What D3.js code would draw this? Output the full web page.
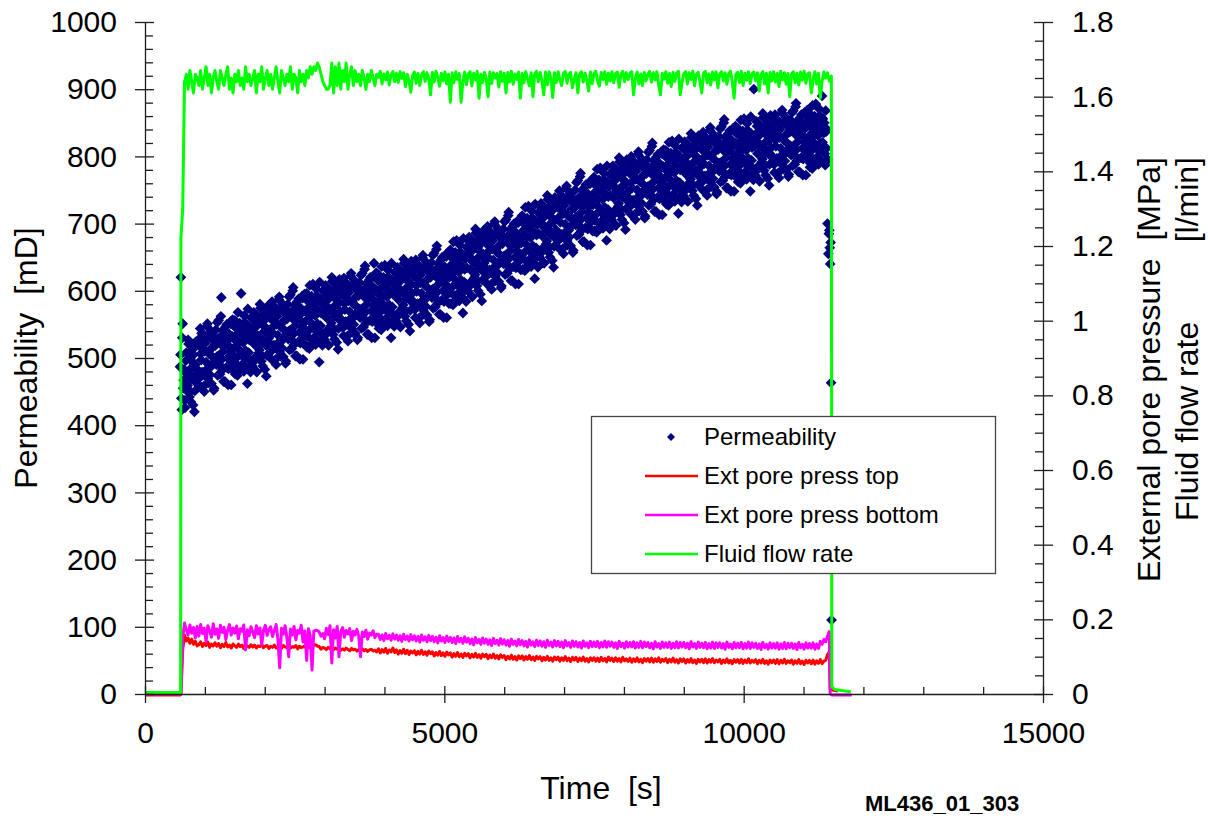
<!DOCTYPE html>
<html>
<head>
<meta charset="utf-8">
<script src="https://cdn.jsdelivr.net/npm/d3@7"></script>
<style>
  html, body { margin: 0; padding: 0; background: #fff; }
  svg { display: block; font-family: "Liberation Sans", Arial, sans-serif; }
  text { white-space: pre; }
</style>
</head>
<body>
<svg id="chart" width="1208" height="820"></svg>
<script>
// ---------------------------------------------------------------------------
// Test ML436_01_303 : permeability, external pore pressures and flow rate
// ---------------------------------------------------------------------------

// Axis ticks
const timeTicks = [0, 5000, 10000, 15000];
const permTicks = [0, 100, 200, 300, 400, 500, 600, 700, 800, 900, 1000];
const rightTicks = [0, 0.2, 0.4, 0.6, 0.8, 1.0, 1.2, 1.4, 1.6, 1.8];

// Legend entries
const legendLabels = ["Permeability", "Ext pore press top", "Ext pore press bottom", "Fluid flow rate"];

// Logged line channels: first sample at 600 s, one sample every 30 s
const lineT0 = 600, lineDt = 30;

// Fluid flow rate [l/min]
const flowRate = [
  1.22, 1.30, 1.64, 1.66, 1.62, 1.67, 1.64, 1.61, 1.66, 1.65,
  1.63, 1.67, 1.62, 1.65, 1.68, 1.63, 1.66, 1.61, 1.65, 1.67,
  1.64, 1.62, 1.67, 1.65, 1.63, 1.66, 1.68, 1.62, 1.65, 1.61,
  1.66, 1.64, 1.67, 1.63, 1.65, 1.62, 1.68, 1.64, 1.66, 1.63,
  1.65, 1.67, 1.61, 1.66, 1.64, 1.68, 1.62, 1.65, 1.67, 1.63,
  1.66, 1.62, 1.65, 1.68, 1.64, 1.61, 1.67, 1.65, 1.63, 1.66,
  1.64, 1.68, 1.62, 1.66, 1.65, 1.61, 1.67, 1.64, 1.66, 1.63,
  1.67, 1.65, 1.68, 1.66, 1.68, 1.67, 1.69, 1.68, 1.66, 1.64,
  1.63, 1.62, 1.62, 1.63, 1.69, 1.61, 1.68, 1.63, 1.69, 1.62,
  1.67, 1.64, 1.69, 1.62, 1.66, 1.68, 1.63, 1.67, 1.64, 1.66,
  1.63, 1.67, 1.65, 1.62, 1.66, 1.64, 1.67, 1.65, 1.63, 1.66,
  1.652, 1.668, 1.634, 1.661, 1.645, 1.666, 1.631, 1.659, 1.667, 1.640,
  1.663, 1.638, 1.667, 1.649, 1.664, 1.627, 1.660, 1.642, 1.612, 1.657,
  1.666, 1.636, 1.662, 1.630, 1.658, 1.667, 1.641, 1.664, 1.648, 1.605,
  1.665, 1.639, 1.668, 1.651, 1.628, 1.663, 1.643, 1.666, 1.634, 1.660,
  1.585, 1.664, 1.637, 1.667, 1.646, 1.662, 1.585, 1.640, 1.666, 1.632,
  1.661, 1.667, 1.629, 1.663, 1.644, 1.668, 1.596, 1.660, 1.638, 1.665,
  1.648, 1.600, 1.666, 1.635, 1.664, 1.650, 1.662, 1.626, 1.667, 1.641,
  1.663, 1.610, 1.665, 1.639, 1.668, 1.633, 1.661, 1.646, 1.666, 1.596,
  1.662, 1.637, 1.667, 1.648, 1.629, 1.664, 1.600, 1.661, 1.668, 1.640,
  1.665, 1.643, 1.605, 1.666, 1.632, 1.667, 1.649, 1.598, 1.664, 1.638,
  1.667, 1.645, 1.630, 1.663, 1.668, 1.636, 1.660, 1.665, 1.624, 1.647,
  1.664, 1.610, 1.661, 1.667, 1.639, 1.663, 1.644, 1.615, 1.666, 1.635,
  1.662, 1.668, 1.641, 1.628, 1.665, 1.646, 1.667, 1.633, 1.663, 1.642,
  1.667, 1.637, 1.662, 1.666, 1.625, 1.660, 1.668, 1.640, 1.664, 1.646,
  1.663, 1.667, 1.605, 1.648, 1.666, 1.634, 1.661, 1.630, 1.665, 1.643,
  1.660, 1.668, 1.639, 1.664, 1.645, 1.667, 1.632, 1.605, 1.663, 1.647,
  1.667, 1.636, 1.662, 1.627, 1.665, 1.641, 1.663, 1.668, 1.605, 1.638,
  1.662, 1.667, 1.634, 1.664, 1.646, 1.668, 1.629, 1.660, 1.665, 1.640,
  1.610, 1.663, 1.668, 1.637, 1.661, 1.631, 1.666, 1.645, 1.667, 1.624,
  1.661, 1.667, 1.642, 1.664, 1.633, 1.662, 1.668, 1.639, 1.596, 1.660,
  1.665, 1.638, 1.668, 1.630, 1.663, 1.644, 1.667, 1.635, 1.661, 1.666,
  1.643, 1.664, 1.615, 1.659, 1.667, 1.634, 1.663, 1.610, 1.665, 1.642,
  1.667, 1.639, 1.662, 1.627, 1.668, 1.645, 1.664, 1.633, 1.662, 1.600,
  1.660, 1.667, 1.637, 1.663, 1.631, 1.666, 1.644, 1.668, 1.636, 1.661,
  1.664, 1.610, 1.645, 1.667, 1.634, 1.663, 1.596, 1.641, 1.666, 1.650,
  1.664, 1.642
];
const flowBefore = [[0, 0.004], [595, 0.004]];
const flowAfter = [[11465, 1.655], [11472, 0.02], [11520, 0.012], [11700, 0.008], [11790, 0.006]];

// External pore pressure, top [MPa]
const poreTop = [
  0.000, 0.120, 0.158, 0.142, 0.150, 0.136, 0.147, 0.133, 0.141, 0.129,
  0.132, 0.140, 0.127, 0.136, 0.130, 0.139, 0.125, 0.134, 0.129, 0.137,
  0.128, 0.135, 0.124, 0.133, 0.127, 0.138, 0.126, 0.131, 0.123, 0.134,
  0.129, 0.125, 0.134, 0.127, 0.131, 0.122, 0.133, 0.128, 0.125, 0.132,
  0.126, 0.131, 0.123, 0.129, 0.127, 0.133, 0.124, 0.128, 0.130, 0.122,
  0.128, 0.125, 0.131, 0.123, 0.127, 0.129, 0.122, 0.130, 0.126, 0.124,
  0.129, 0.123, 0.127, 0.125, 0.130, 0.121, 0.128, 0.124, 0.126, 0.129,
  0.122, 0.127, 0.124, 0.128, 0.130, 0.132, 0.128, 0.127, 0.120, 0.125,
  0.123, 0.119, 0.125, 0.121, 0.124, 0.118, 0.123, 0.120, 0.122, 0.117,
  0.121, 0.118, 0.123, 0.119, 0.116, 0.122, 0.118, 0.120, 0.115, 0.119,
  0.117, 0.121, 0.116, 0.119, 0.114, 0.118, 0.120, 0.115, 0.117, 0.113,
  0.121, 0.110, 0.119, 0.112, 0.122, 0.109, 0.118, 0.113, 0.123, 0.111,
  0.118, 0.107, 0.116, 0.109, 0.120, 0.108, 0.117, 0.106, 0.115, 0.110,
  0.116, 0.105, 0.114, 0.107, 0.117, 0.106, 0.113, 0.104, 0.115, 0.108,
  0.113, 0.102, 0.111, 0.104, 0.114, 0.103, 0.110, 0.101, 0.112, 0.105,
  0.110, 0.099, 0.108, 0.101, 0.111, 0.100, 0.107, 0.098, 0.109, 0.102,
  0.108, 0.097, 0.106, 0.099, 0.109, 0.098, 0.105, 0.096, 0.107, 0.100,
  0.106, 0.095, 0.104, 0.097, 0.107, 0.096, 0.103, 0.094, 0.105, 0.098,
  0.103, 0.092, 0.101, 0.094, 0.104, 0.093, 0.100, 0.091, 0.102, 0.095,
  0.102, 0.091, 0.100, 0.093, 0.103, 0.092, 0.099, 0.090, 0.101, 0.094,
  0.100, 0.089, 0.098, 0.091, 0.101, 0.090, 0.097, 0.088, 0.099, 0.092,
  0.099, 0.088, 0.097, 0.090, 0.100, 0.089, 0.096, 0.087, 0.098, 0.091,
  0.098, 0.087, 0.096, 0.089, 0.099, 0.088, 0.095, 0.086, 0.097, 0.090,
  0.097, 0.088, 0.096, 0.087, 0.098, 0.089, 0.095, 0.086, 0.099, 0.090,
  0.096, 0.087, 0.097, 0.088, 0.095, 0.086, 0.098, 0.089, 0.094, 0.087,
  0.096, 0.085, 0.094, 0.087, 0.097, 0.086, 0.093, 0.084, 0.095, 0.088,
  0.095, 0.086, 0.096, 0.085, 0.094, 0.087, 0.097, 0.085, 0.093, 0.088,
  0.095, 0.084, 0.093, 0.086, 0.096, 0.085, 0.092, 0.083, 0.094, 0.087,
  0.094, 0.083, 0.092, 0.085, 0.095, 0.084, 0.091, 0.082, 0.093, 0.086,
  0.093, 0.084, 0.094, 0.083, 0.092, 0.085, 0.095, 0.084, 0.091, 0.086,
  0.093, 0.082, 0.091, 0.084, 0.094, 0.083, 0.090, 0.081, 0.092, 0.085,
  0.092, 0.083, 0.093, 0.082, 0.091, 0.084, 0.094, 0.083, 0.090, 0.085,
  0.092, 0.081, 0.090, 0.083, 0.093, 0.082, 0.089, 0.080, 0.091, 0.084,
  0.091, 0.082, 0.092, 0.081, 0.090, 0.083, 0.093, 0.082, 0.089, 0.084,
  0.091, 0.080, 0.089, 0.082, 0.092, 0.081, 0.088, 0.079, 0.090, 0.083,
  0.090, 0.081, 0.091, 0.080, 0.089, 0.082, 0.092, 0.081, 0.088, 0.090,
  0.105, 0.113
];
const topBefore = [[0, -0.003], [590, -0.003]];
const topAfter = [[11445, 0.012], [11500, 0.010], [11575, 0.008]];

// External pore pressure, bottom [MPa]
const poreBottom = [
  0.000, 0.150, 0.190, 0.172, 0.158, 0.185, 0.163, 0.178, 0.150, 0.181,
  0.155, 0.186, 0.162, 0.176, 0.141, 0.183, 0.170, 0.152, 0.188, 0.160,
  0.174, 0.149, 0.184, 0.165, 0.179, 0.146, 0.171, 0.186, 0.158, 0.177,
  0.163, 0.182, 0.148, 0.175, 0.168, 0.185, 0.118, 0.172, 0.156, 0.180,
  0.166, 0.151, 0.183, 0.161, 0.177, 0.132, 0.170, 0.184, 0.157, 0.173,
  0.180, 0.154, 0.169, 0.186, 0.147, 0.070, 0.176, 0.160, 0.183, 0.152,
  0.100, 0.174, 0.158, 0.181, 0.145, 0.171, 0.163, 0.184, 0.139, 0.169,
  0.090, 0.175, 0.157, 0.064, 0.168, 0.171, 0.170, 0.166, 0.155, 0.162,
  0.148, 0.176, 0.159, 0.183, 0.083, 0.172, 0.150, 0.181, 0.100, 0.167,
  0.178, 0.152, 0.170, 0.161, 0.175, 0.143, 0.168, 0.158, 0.173, 0.155,
  0.100, 0.166, 0.154, 0.171, 0.147, 0.163, 0.158, 0.169, 0.151, 0.160,
  0.160, 0.146, 0.158, 0.143, 0.162, 0.148, 0.157, 0.144, 0.161, 0.147,
  0.158, 0.144, 0.156, 0.141, 0.160, 0.146, 0.155, 0.142, 0.159, 0.145,
  0.156, 0.142, 0.154, 0.139, 0.158, 0.144, 0.153, 0.140, 0.157, 0.143,
  0.154, 0.140, 0.152, 0.137, 0.156, 0.142, 0.151, 0.138, 0.155, 0.141,
  0.152, 0.138, 0.150, 0.135, 0.154, 0.140, 0.149, 0.136, 0.153, 0.139,
  0.149, 0.135, 0.147, 0.132, 0.151, 0.137, 0.146, 0.133, 0.150, 0.136,
  0.147, 0.133, 0.145, 0.130, 0.149, 0.135, 0.144, 0.131, 0.148, 0.134,
  0.145, 0.131, 0.143, 0.128, 0.147, 0.133, 0.142, 0.129, 0.146, 0.132,
  0.143, 0.129, 0.141, 0.126, 0.145, 0.131, 0.140, 0.127, 0.144, 0.130,
  0.142, 0.128, 0.140, 0.125, 0.144, 0.130, 0.139, 0.126, 0.143, 0.129,
  0.141, 0.127, 0.139, 0.124, 0.143, 0.129, 0.138, 0.125, 0.142, 0.128,
  0.140, 0.126, 0.138, 0.123, 0.142, 0.128, 0.137, 0.124, 0.141, 0.127,
  0.139, 0.127, 0.141, 0.124, 0.138, 0.126, 0.142, 0.125, 0.140, 0.128,
  0.139, 0.125, 0.137, 0.122, 0.141, 0.127, 0.136, 0.123, 0.140, 0.126,
  0.138, 0.126, 0.140, 0.123, 0.137, 0.125, 0.141, 0.124, 0.139, 0.127,
  0.138, 0.124, 0.136, 0.121, 0.140, 0.126, 0.135, 0.122, 0.139, 0.125,
  0.137, 0.125, 0.139, 0.122, 0.136, 0.124, 0.140, 0.123, 0.138, 0.126,
  0.138, 0.124, 0.136, 0.121, 0.140, 0.126, 0.135, 0.122, 0.139, 0.125,
  0.136, 0.124, 0.138, 0.121, 0.135, 0.123, 0.139, 0.122, 0.137, 0.125,
  0.137, 0.123, 0.135, 0.120, 0.139, 0.125, 0.134, 0.121, 0.138, 0.124,
  0.136, 0.124, 0.138, 0.121, 0.135, 0.123, 0.139, 0.122, 0.137, 0.125,
  0.136, 0.122, 0.134, 0.119, 0.138, 0.124, 0.133, 0.120, 0.137, 0.123,
  0.135, 0.123, 0.137, 0.120, 0.134, 0.122, 0.138, 0.121, 0.136, 0.124,
  0.136, 0.122, 0.134, 0.119, 0.138, 0.124, 0.133, 0.120, 0.137, 0.123,
  0.135, 0.123, 0.137, 0.120, 0.134, 0.122, 0.141, 0.133, 0.146, 0.140,
  0.155, 0.167
];
const bottomBefore = [[0, 0.0], [590, 0.0]];
const bottomAfter = [[11445, 0.0], [11480, -0.003], [11805, -0.003]];

// Computed permeability [mD]: first value at 585 s, one value every 7.5 s
const permT0 = 585, permDt = 7.5;
const permeability = [
  487, 505, 620, 440, 423, 530, 551, 455, 467, 483, 437, 426, 478, 496, 508, 477, 455, 459, 527, 521, 448, 442, 483, 500, 435, 469, 495, 512, 472, 430, 505, 487, 420, 451, 490, 524, 463, 476, 520, 462,
  482, 519, 528, 470, 458, 544, 506, 497, 537, 479, 475, 536, 514, 458, 450, 510, 522, 528, 494, 483, 547, 551, 469, 463, 510, 506, 485, 475, 535, 540, 462, 491, 502, 517, 526, 452, 455, 531, 518, 498,
  542, 490, 502, 553, 474, 503, 556, 530, 490, 476, 521, 562, 590, 498, 482, 541, 510, 465, 536, 519, 465, 546, 528, 486, 550, 525, 500, 460, 484, 536, 517, 509, 554, 551, 460, 494, 532, 557, 505, 481,
  515, 547, 556, 476, 492, 525, 535, 501, 474, 568, 546, 513, 524, 552, 487, 482, 596, 536, 504, 491, 541, 523, 480, 563, 553, 499, 511, 531, 531, 485, 462, 573, 548, 508, 527, 542, 496, 479, 560, 529,
  540, 488, 493, 543, 568, 561, 520, 501, 553, 536, 480, 479, 531, 549, 561, 530, 508, 512, 580, 574, 501, 495, 536, 553, 488, 522, 548, 565, 525, 483, 558, 540, 473, 504, 543, 577, 516, 529, 573, 515,
  522, 559, 568, 510, 498, 584, 546, 537, 577, 519, 515, 576, 554, 498, 490, 550, 562, 568, 534, 523, 587, 591, 509, 503, 550, 546, 525, 515, 575, 580, 502, 531, 542, 557, 566, 492, 495, 571, 558, 538,
  580, 528, 540, 591, 512, 541, 594, 568, 528, 514, 559, 600, 605, 536, 520, 579, 548, 503, 574, 557, 503, 584, 566, 524, 588, 563, 538, 498, 522, 574, 555, 547, 592, 589, 498, 532, 570, 595, 543, 519,
  555, 587, 596, 516, 532, 565, 575, 541, 514, 608, 586, 553, 564, 592, 527, 522, 610, 576, 544, 531, 581, 563, 520, 603, 593, 539, 551, 571, 571, 525, 494, 613, 588, 548, 567, 582, 536, 519, 600, 569,
  580, 528, 533, 583, 608, 601, 560, 541, 593, 576, 520, 519, 571, 589, 601, 570, 548, 552, 620, 614, 541, 535, 576, 593, 528, 562, 588, 605, 565, 523, 598, 580, 513, 544, 583, 617, 556, 569, 613, 555,
  557, 594, 603, 545, 533, 619, 581, 572, 612, 554, 550, 611, 589, 533, 525, 585, 597, 603, 569, 558, 622, 626, 544, 538, 585, 581, 560, 550, 610, 615, 537, 566, 577, 592, 601, 527, 530, 606, 593, 573,
  612, 560, 572, 623, 544, 573, 626, 600, 560, 546, 591, 632, 637, 568, 552, 611, 580, 535, 606, 589, 535, 616, 598, 556, 620, 595, 570, 530, 554, 606, 587, 579, 641, 621, 530, 564, 602, 627, 575, 551,
  583, 615, 624, 544, 560, 593, 603, 569, 542, 636, 614, 581, 592, 620, 555, 550, 638, 604, 572, 559, 609, 591, 548, 631, 621, 567, 579, 599, 599, 553, 530, 641, 616, 576, 595, 610, 564, 547, 628, 597,
  607, 555, 560, 610, 635, 628, 587, 568, 620, 603, 547, 546, 598, 616, 628, 597, 575, 579, 647, 641, 568, 562, 603, 620, 555, 589, 615, 632, 592, 550, 625, 607, 540, 571, 610, 644, 583, 596, 640, 582,
  584, 621, 630, 572, 560, 646, 608, 599, 639, 581, 577, 638, 616, 560, 552, 612, 624, 630, 596, 585, 649, 653, 571, 565, 612, 608, 587, 577, 637, 642, 564, 593, 604, 619, 628, 554, 557, 633, 620, 600,
  642, 590, 602, 653, 574, 603, 656, 630, 590, 576, 621, 662, 667, 598, 582, 641, 610, 565, 636, 619, 565, 646, 628, 586, 650, 625, 600, 560, 584, 636, 617, 609, 654, 651, 560, 594, 632, 657, 605, 581,
  620, 652, 661, 581, 597, 630, 640, 606, 579, 673, 651, 618, 629, 657, 592, 587, 675, 641, 609, 596, 646, 628, 585, 668, 658, 604, 616, 636, 636, 590, 567, 678, 653, 613, 632, 647, 601, 584, 665, 634,
  652, 600, 605, 655, 680, 673, 632, 613, 665, 648, 592, 591, 643, 661, 673, 642, 620, 624, 692, 686, 613, 607, 648, 665, 600, 634, 660, 677, 637, 595, 670, 652, 585, 616, 655, 689, 628, 641, 685, 627,
  634, 671, 680, 622, 610, 696, 658, 649, 689, 631, 627, 688, 666, 610, 602, 662, 674, 680, 646, 635, 699, 703, 621, 615, 662, 658, 637, 627, 687, 692, 614, 643, 654, 669, 678, 604, 607, 683, 670, 650,
  692, 640, 652, 703, 624, 653, 706, 680, 640, 626, 671, 712, 717, 648, 632, 691, 660, 615, 686, 669, 615, 696, 678, 636, 700, 675, 650, 610, 634, 686, 667, 659, 704, 701, 610, 644, 682, 707, 655, 631,
  671, 703, 712, 632, 648, 681, 691, 657, 630, 724, 702, 669, 680, 708, 643, 638, 726, 692, 660, 647, 697, 679, 636, 719, 709, 655, 667, 687, 687, 641, 618, 729, 704, 664, 683, 698, 652, 635, 716, 685,
  702, 650, 655, 705, 730, 723, 682, 663, 715, 698, 642, 641, 693, 711, 723, 692, 670, 674, 742, 736, 663, 657, 698, 715, 650, 684, 710, 727, 687, 645, 720, 702, 635, 666, 705, 739, 678, 691, 735, 677,
  687, 724, 733, 675, 663, 749, 711, 702, 742, 684, 680, 741, 719, 663, 655, 715, 727, 733, 699, 688, 752, 756, 674, 668, 715, 711, 690, 680, 740, 745, 667, 696, 707, 722, 731, 657, 660, 736, 723, 703,
  750, 698, 710, 761, 682, 711, 764, 738, 698, 684, 729, 770, 775, 706, 690, 749, 718, 673, 744, 727, 673, 754, 736, 694, 758, 733, 708, 668, 692, 744, 725, 717, 762, 759, 668, 702, 740, 765, 713, 689,
  728, 760, 769, 689, 705, 738, 748, 714, 687, 781, 759, 726, 737, 765, 700, 695, 783, 749, 717, 704, 754, 736, 693, 776, 766, 712, 724, 744, 744, 698, 675, 786, 761, 721, 740, 755, 709, 692, 773, 742,
  758, 706, 711, 761, 786, 779, 738, 719, 771, 754, 698, 697, 749, 767, 779, 748, 726, 730, 798, 792, 719, 713, 754, 771, 706, 740, 766, 783, 743, 701, 776, 758, 691, 722, 761, 795, 734, 747, 791, 733,
  738, 775, 784, 726, 714, 800, 762, 753, 793, 735, 731, 792, 770, 714, 706, 766, 778, 784, 750, 739, 803, 807, 725, 719, 766, 762, 741, 731, 791, 796, 718, 747, 758, 773, 782, 708, 711, 787, 774, 754,
  795, 743, 755, 806, 727, 756, 809, 783, 743, 729, 774, 815, 820, 751, 735, 794, 763, 718, 789, 772, 718, 799, 781, 739, 803, 778, 753, 713, 737, 789, 770, 762, 807, 804, 713, 747, 785, 810, 758, 734,
  768, 800, 809, 729, 745, 778, 788, 754, 727, 821, 799, 766, 777, 805, 740, 735, 823, 789, 757, 744, 794, 776, 733, 816, 806, 752, 764, 784, 784, 738, 715, 826, 801, 761, 780, 795, 749, 732, 813, 782,
  794, 742, 747, 797, 822, 815, 774, 755, 807, 790, 734, 733, 785, 803, 815, 784, 762, 766, 834, 828, 755, 749, 790, 807, 742, 776, 802, 819, 779, 737, 812, 794, 727, 758, 797, 831, 770, 783, 827, 769,
  774, 811, 820, 762, 750, 836, 798, 789, 829, 771, 767, 828, 806, 750, 742, 802, 814, 820, 786, 775, 839, 843, 761, 755, 802, 798, 777, 767, 827, 832, 754, 783, 794, 809, 818, 744, 747, 823, 810, 790,
  830, 778, 790, 841, 762, 791, 844, 818, 778, 764, 809, 850, 855, 786, 770, 829, 798, 753, 824, 807, 753, 834, 816, 774, 838, 813, 788, 748, 772, 824, 805, 797, 842, 839, 748, 782, 820, 845, 793, 769,
  801, 833, 842, 762, 778, 811, 821, 787, 760, 854, 832, 799, 810, 838, 773, 768, 856, 822, 790, 777, 827, 809, 766, 849, 839, 785, 797, 817, 817, 771, 748, 859, 834, 794, 813, 828, 782, 765, 900, 815,
  824, 772, 777, 827, 852, 845, 804, 785, 837, 820, 764, 763, 815, 833, 845, 814, 792, 796, 864, 858, 785, 779, 820, 837, 772, 806, 832, 849, 809, 767, 842, 824, 757, 788, 827, 861, 800, 813, 857, 799,
  800, 837, 846, 788, 776, 862, 824, 815, 855, 797, 793, 854, 832, 776, 768, 828, 840, 846, 812, 801, 865, 869, 787, 781, 828, 824, 803, 793, 853, 858, 780, 809, 820, 835, 844, 770, 773, 849, 836, 816,
  854, 802, 814, 865, 786, 815, 868, 842, 802, 788, 833, 874, 879, 810, 794, 853, 822, 777, 848, 831, 777, 858, 840, 798, 862, 837, 812, 772, 796, 848, 829, 821, 866, 863, 772, 806, 844, 869, 817, 793,
  823, 855, 864, 784, 800, 833, 843, 809, 782, 876, 854, 821, 832, 860, 795, 790, 878, 844, 812, 799, 849, 831, 788, 871, 861, 807, 819, 839, 839, 793, 890, 821, 856, 816, 835, 850, 804, 787, 868, 837,
  812, 840, 700, 795, 655, 685, 690, 664, 640, 672, 463, 110
];

// ---------------------------------------------------------------------------
const svg = d3.select("#chart");
const plot = { left: 145, right: 1043, top: 22, bottom: 694 };

const x = d3.scaleLinear().domain([0, 15000]).range([plot.left, plot.right]);
const yPerm = d3.scaleLinear().domain([0, 1000]).range([plot.bottom, plot.top]);
const yRight = d3.scaleLinear().domain([0, 1.8]).range([plot.bottom, plot.top]);

const axisColor = "#1e1e1e";
const tickFont = 30;

function toSeries(before, values, after) {
  return before.concat(values.map((v, i) => [lineT0 + i * lineDt, v]), after);
}

const topSeries = toSeries(topBefore, poreTop, topAfter);
const bottomSeries = toSeries(bottomBefore, poreBottom, bottomAfter);
const flowSeries = toSeries(flowBefore, flowRate, flowAfter);
const permPoints = permeability.map((v, i) => [permT0 + i * permDt, v]);

const diamond = r => `M0,${-r}L${r},0L0,${r}L${-r},0Z`;

// ---- data ----
const gData = svg.append("g");

gData.append("g").selectAll("path")
  .data(permPoints)
  .join("path")
  .attr("d", diamond(5.4))
  .attr("transform", d => `translate(${x(d[0])},${yPerm(d[1])})`)
  .attr("fill", "#000080");

const line = d3.line().x(d => x(d[0])).y(d => yRight(d[1]));

gData.append("path").datum(topSeries)
  .attr("d", line).attr("fill", "none")
  .attr("stroke", "#ff0000").attr("stroke-width", 3).attr("stroke-linejoin", "round");

gData.append("path").datum(bottomSeries)
  .attr("d", line).attr("fill", "none")
  .attr("stroke", "#ff00ff").attr("stroke-width", 3).attr("stroke-linejoin", "round");

gData.append("path").datum(flowSeries)
  .attr("d", line).attr("fill", "none")
  .attr("stroke", "#00ff00").attr("stroke-width", 3).attr("stroke-linejoin", "round");

// ---- axes ----
function styleAxis(g) {
  g.selectAll("path.domain").attr("stroke", axisColor).attr("stroke-width", 1.3);
  g.selectAll(".tick line").attr("stroke", axisColor).attr("stroke-width", 1.3);
  g.selectAll("text")
    .attr("fill", "#000")
    .style("font-size", tickFont + "px")
    .style("font-family", '"Liberation Sans", Arial, sans-serif');
}
function ticksOnly(g) {
  g.select("path.domain").remove();
  g.selectAll(".tick line").attr("stroke", axisColor).attr("stroke-width", 1.3);
  g.selectAll("text").remove();
}

const permMinor = d3.range(0, 1001, 20).filter(v => v % 100 !== 0);
const rightMinor = d3.range(0, 37).map(i => i * 0.05).filter((v, i) => i % 4 !== 0);
const timeMinor = d3.range(0, 15001, 1000).filter(v => v % 5000 !== 0);

// left axis
svg.append("g").attr("transform", `translate(${plot.left},0)`)
  .call(d3.axisLeft(yPerm).tickValues(permTicks).tickSizeInner(10).tickSizeOuter(0).tickPadding(18)
    .tickFormat(d3.format("d")))
  .call(styleAxis);
svg.append("g").attr("transform", `translate(${plot.left},0)`)
  .call(d3.axisLeft(yPerm).tickValues(permTicks).tickSizeInner(-9).tickSizeOuter(0))
  .call(ticksOnly);
svg.append("g").attr("transform", `translate(${plot.left},0)`)
  .call(d3.axisLeft(yPerm).tickValues(permMinor).tickSizeInner(-8).tickSizeOuter(0))
  .call(ticksOnly);

// right axis
svg.append("g").attr("transform", `translate(${plot.right},0)`)
  .call(d3.axisRight(yRight).tickValues(rightTicks).tickSizeInner(10).tickSizeOuter(0).tickPadding(19)
    .tickFormat(d => String(+d.toFixed(1))))
  .call(styleAxis);
svg.append("g").attr("transform", `translate(${plot.right},0)`)
  .call(d3.axisRight(yRight).tickValues(rightTicks).tickSizeInner(-9).tickSizeOuter(0))
  .call(ticksOnly);
svg.append("g").attr("transform", `translate(${plot.right},0)`)
  .call(d3.axisRight(yRight).tickValues(rightMinor).tickSizeInner(-8).tickSizeOuter(0))
  .call(ticksOnly);

// bottom axis
svg.append("g").attr("transform", `translate(0,${plot.bottom})`)
  .call(d3.axisBottom(x).tickValues(timeTicks).tickSizeInner(9).tickSizeOuter(0).tickPadding(19)
    .tickFormat(d3.format("d")))
  .call(styleAxis);
svg.append("g").attr("transform", `translate(0,${plot.bottom})`)
  .call(d3.axisBottom(x).tickValues(timeTicks).tickSizeInner(-8).tickSizeOuter(0))
  .call(ticksOnly);
svg.append("g").attr("transform", `translate(0,${plot.bottom})`)
  .call(d3.axisBottom(x).tickValues(timeMinor).tickSizeInner(-7).tickSizeOuter(0))
  .call(ticksOnly);

// ---- axis titles ----
const titleFont = 32;
svg.append("text")
  .attr("transform", "translate(37,358) rotate(-90)")
  .attr("text-anchor", "middle")
  .style("font-size", titleFont + "px")
  .text("Permeability  [mD]");

svg.append("text")
  .attr("x", 601).attr("y", 799)
  .attr("text-anchor", "middle")
  .style("font-size", titleFont + "px")
  .text("Time  [s]");

svg.append("text")
  .attr("transform", "translate(1160,157) rotate(-90)")
  .attr("text-anchor", "end")
  .style("font-size", titleFont + "px")
  .text("External pore pressure  [MPa]");

// second right title: quantity starts low, unit aligned with the unit above
const flowTitle = svg.append("text")
  .attr("transform", "translate(1198,521) rotate(-90)")
  .style("font-size", titleFont + "px");
flowTitle.append("tspan").attr("x", 0).text("Fluid flow rate  ");
flowTitle.append("tspan").attr("x", 364).attr("text-anchor", "end").text("[l/min]");

svg.append("text")
  .attr("x", 865).attr("y", 811)
  .style("font-size", "22px")
  .style("font-weight", "bold")
  .text("ML436_01_303");

// ---- legend ----
const legend = svg.append("g");
legend.append("rect")
  .attr("x", 591.5).attr("y", 416.5).attr("width", 404).attr("height", 157)
  .attr("fill", "#fff").attr("stroke", "#444").attr("stroke-width", 1.3);

const legendColors = ["#000080", "#ff0000", "#ff00ff", "#00ff00"];
const rowY = [437, 476, 515, 554];

legend.selectAll("g.entry")
  .data(legendLabels)
  .join("g")
  .attr("class", "entry")
  .each(function (label, i) {
    const g = d3.select(this);
    if (i === 0) {
      g.append("path")
        .attr("d", diamond(4))
        .attr("transform", `translate(671,${rowY[i]})`)
        .attr("fill", legendColors[i]);
    } else {
      g.append("line")
        .attr("x1", 645).attr("x2", 698)
        .attr("y1", rowY[i]).attr("y2", rowY[i])
        .attr("stroke", legendColors[i]).attr("stroke-width", 2.6);
    }
    g.append("text")
      .attr("x", 704).attr("y", rowY[i] + 8)
      .style("font-size", "24px")
      .text(label);
  });
</script>
</body>
</html>
